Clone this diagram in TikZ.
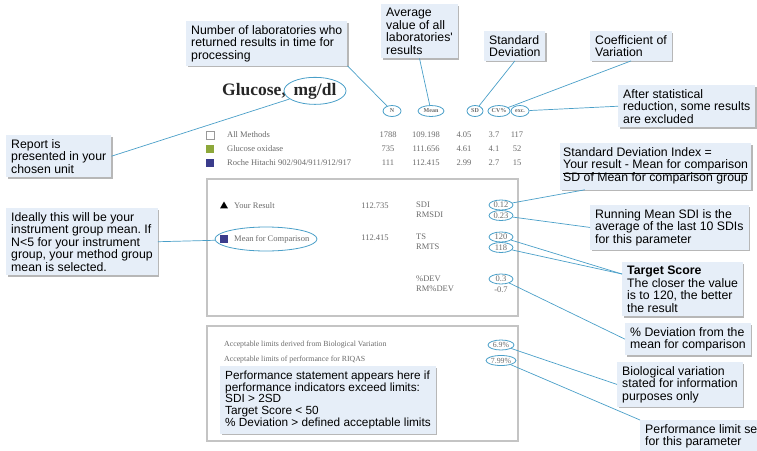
\documentclass[tikz,border=0pt]{standalone}
\usepackage{fontspec}
\usetikzlibrary{shapes.geometric,shadows,calc}

\newfontfamily\calloutface{Liberation Sans}
\newfontfamily\reportface{Liberation Serif}
\newcommand{\calloutfont}{\calloutface\fontsize{12.3}{12.5}\selectfont}
\newcommand{\perffont}{\calloutface\fontsize{11.8}{11.6}\selectfont}
\newcommand{\reportfont}{\reportface\fontsize{8.5}{9}\selectfont}
\newcommand{\limitfont}{\reportface\fontsize{7.8}{8}\selectfont}
\newcommand{\headfont}{\reportface\bfseries\fontsize{6}{6.5}\selectfont}
\newcommand{\titlefont}{\reportface\bfseries\fontsize{17.5}{20}\selectfont}
\frenchspacing

\definecolor{linkblue}{HTML}{4A9FC8}
\definecolor{calloutfill}{HTML}{E6EEF8}
\definecolor{reportgray}{HTML}{6A6A6A}
\definecolor{methodgreen}{HTML}{8DA83A}
\definecolor{methodblue}{HTML}{3A3C8C}
\definecolor{panelgray}{HTML}{C4C4C4}

\tikzset{
  callout/.style={anchor=north west, fill=calloutfill, align=left, font=\calloutfont,
    inner xsep=5pt, inner ysep=4pt,
    drop shadow={shadow xshift=1.5pt, shadow yshift=-1.5pt, fill=black!40, opacity=0.7}},
  link/.style={draw=linkblue, line width=0.7pt},
  ring/.style={ellipse, draw=linkblue, line width=0.8pt, inner sep=0.5pt},
  rep/.style={font=\reportfont, text=reportgray, inner sep=0pt},
  hdr/.style={ring, font=\headfont, text=reportgray, minimum height=11pt},
  val/.style={ring, font=\reportfont, text=reportgray, minimum width=24pt, minimum height=10pt},
  swatch/.style={minimum size=8pt, inner sep=0pt},
  panel/.style={draw=panelgray, line width=1.2pt},
}

\begin{document}
\begin{tikzpicture}[x=1pt, y=-1pt]
    % Parameters
    \def\colName{227}
    \def\colN{388}
    \def\colMean{426}
    \def\colSD{464}
    \def\colCV{494}
    \def\colExc{517}
    \def\colLbl{416}
    \def\colVal{501}

    \useasboundingbox (0,0) rectangle (757,450);
    \clip (0,0) rectangle (757,450);

    % Title
    \node[font=\titlefont, text=black!85, anchor=base west, inner sep=0pt] (title) at (222,95) {Glucose,};
    \node[ring, font=\titlefont, text=black!85, minimum width=62pt, minimum height=27pt,
      inner sep=0pt, anchor=base] (unit) at (315,95) {mg/dl};

    % Column headers
    \node[hdr, minimum width=18pt] (hdrN) at (392,111) {N};
    \node[hdr, minimum width=26pt] (hdrMean) at (431,111) {Mean};
    \node[hdr, minimum width=16pt] (hdrSD) at (475,111) {SD};
    \node[hdr, minimum width=22pt] (hdrCV) at (499,111) {CV\%};
    \node[hdr, minimum width=18pt] (hdrExc) at (520,111) {exc.};

    % Method rows
    \node[swatch, draw=black!40, fill=white] (swAll) at (210,135) {};
    \node[rep, anchor=west] (nameAll) at (\colName,135) {All Methods};
    \node[rep] (nAll) at (\colN,135) {1788};
    \node[rep] (meanAll) at (\colMean,135) {109.198};
    \node[rep] (sdAll) at (\colSD,135) {4.05};
    \node[rep] (cvAll) at (\colCV,135) {3.7};
    \node[rep] (excAll) at (\colExc,135) {117};

    \node[swatch, fill=methodgreen] (swOx) at (210,149) {};
    \node[rep, anchor=west] (nameOx) at (\colName,149) {Glucose oxidase};
    \node[rep] (nOx) at (\colN,149) {735};
    \node[rep] (meanOx) at (\colMean,149) {111.656};
    \node[rep] (sdOx) at (\colSD,149) {4.61};
    \node[rep] (cvOx) at (\colCV,149) {4.1};
    \node[rep] (excOx) at (\colExc,149) {52};

    \node[swatch, fill=methodblue] (swRoche) at (210,163) {};
    \node[rep, anchor=west] (nameRoche) at (\colName,163) {Roche Hitachi 902/904/911/912/917};
    \node[rep] (nRoche) at (\colN,163) {111};
    \node[rep] (meanRoche) at (\colMean,163) {112.415};
    \node[rep] (sdRoche) at (\colSD,163) {2.99};
    \node[rep] (cvRoche) at (\colCV,163) {2.7};
    \node[rep] (excRoche) at (\colExc,163) {15};

    % Result panel
    \draw[panel] (207,179) rectangle (518,316);
    \node[swatch, regular polygon, regular polygon sides=3, fill=black, minimum size=9pt] (markYou) at (224,206) {};
    \node[rep, anchor=west] (nameYou) at (234,206) {Your Result};
    \node[rep] (resYou) at (375,206) {112.735};
    \node[rep, anchor=west] (lblSDI) at (\colLbl,205) {SDI};
    \node[rep, anchor=west] (lblRMSDI) at (\colLbl,215) {RMSDI};
    \node[val] (valSDI) at (\colVal,205) {0.12};
    \node[val] (valRMSDI) at (\colVal,215.5) {0.23};

    \node[swatch, fill=methodblue] (markMean) at (224,239) {};
    \node[ring, rep, minimum width=102pt, minimum height=24pt] (mfc) at (266,239) {\phantom{x}};
    \node[rep, anchor=west] (nameMean) at (234,239) {Mean for Comparison};
    \node[rep] (resMean) at (375,238) {112.415};
    \node[rep, anchor=west] (lblTS) at (\colLbl,237) {TS};
    \node[rep, anchor=west] (lblRMTS) at (\colLbl,247) {RMTS};
    \node[val] (val120) at (\colVal,237) {120};
    \node[val] (val118) at (\colVal,247.5) {118};

    \node[rep, anchor=west] (lblDev) at (\colLbl,279) {\%DEV};
    \node[rep, anchor=west] (lblRMDev) at (\colLbl,289) {RM\%DEV};
    \node[val] (valDev) at (\colVal,279) {0.3};
    \node[rep] (rmDev) at (\colVal,289.5) {-0.7};

    % Limits panel
    \draw[panel] (207,326) rectangle (518,441);
    \node[rep, font=\limitfont, anchor=west] (lblBio) at (224,345) {Acceptable limits derived from Biological Variation};
    \node[rep, font=\limitfont, anchor=west] (lblPerf) at (224,360) {Acceptable limits of performance for RIQAS};
    \node[val, font=\limitfont, minimum width=26pt] (valBio) at (\colVal,345) {6.9\%};
    \node[val, font=\limitfont, minimum width=26pt] (valPerf) at (\colVal,360.5) {7.99\%};
    \node[callout, font=\perffont, inner ysep=5pt] (perfstmt) at (220,366)
      {Performance statement appears here if\\performance indicators exceed limits:\\SDI > 2SD\\Target Score < 50\\\% Deviation > defined acceptable limits};

    % Callouts
    \node[callout] (numlabs) at (186,21) {Number of laboratories who\\returned results in time for\\processing};
    \node[callout] (avg) at (381,4) {Average\\value of all\\laboratories'\\results};
    \node[callout] (sdlab) at (484,31) {Standard\\Deviation};
    \node[callout] (cvlab) at (590,31) {Coefficient of\\Variation};
    \node[callout] (exclab) at (618,85) {After statistical\\reduction, some results\\are excluded};
    \node[callout] (unitlab) at (6,135) {Report is\\presented in your\\chosen unit};
    \node[callout] (meanlab) at (6,208) {Ideally this will be your\\instrument group mean. If\\N<5 for your instrument\\group, your method group\\mean is selected.};
    \node[callout, inner xsep=3pt] (sdilab) at (560,143)
      {\begin{tabular}{@{}l@{}}Standard Deviation Index =\\Your result - Mean for comparison\\\hline SD of Mean for comparison group\end{tabular}};
    \node[callout] (rmsdilab) at (590,205) {Running Mean SDI is the\\average of the last 10 SDIs\\for this parameter};
    \node[callout] (tslab) at (622,262) {\textbf{Target Score}\\The closer the value\\is to 120, the better\\the result};
    \node[callout] (devlab) at (625,323) {\% Deviation from the\\mean for comparison};
    \node[callout] (biolab) at (617,362) {Biological variation\\stated for information\\purposes only};
    \node[callout] (perflab) at (640,420) {Performance limit set\\for this parameter};

    % Connectors
    \coordinate (sdiin) at ($(sdilab.south west)!0.13!(sdilab.south east)$);
    \coordinate (tsin) at ($(tslab.north west)!0.22!(tslab.south west)$);
    \draw[link] (numlabs.south east) -- (hdrN);
    \draw[link] (avg.south) -- (hdrMean);
    \draw[link] (sdlab.south) -- (hdrSD);
    \draw[link] (cvlab.south) -- (hdrCV);
    \draw[link] (exclab.west) -- (hdrExc);
    \draw[link] (unitlab.east) -- (unit);
    \draw[link] (meanlab.east) -- (mfc);
    \draw[link] (sdiin) -- (valSDI);
    \draw[link] (rmsdilab.west) -- (valRMSDI);
    \draw[link] (val120) -- (tsin);
    \draw[link] (val118) -- (tsin);
    \draw[link] (valDev) -- (devlab.west);
    \draw[link] (valBio) -- (biolab.west);
    \draw[link] (valPerf) -- (perflab.north west);
\end{tikzpicture}
\end{document}
